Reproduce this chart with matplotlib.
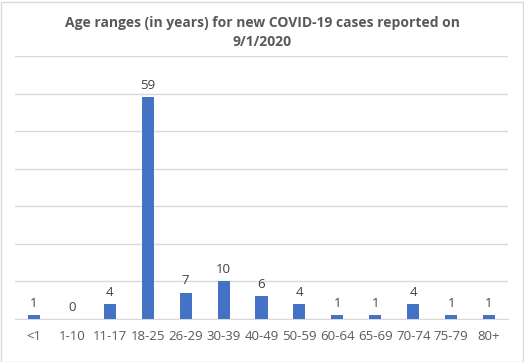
import numpy as np
import matplotlib.pyplot as plt
from matplotlib.patches import Rectangle

ages = ['<1', '1-10', '11-17', '18-25', '26-29', '30-39', '40-49',
        '50-59', '60-64', '65-69', '70-74', '75-79', '80+']
cases = [1, 0, 4, 59, 7, 10, 6, 4, 1, 1, 4, 1, 1]

plt.rcParams['font.family'] = ['Open Sans', 'DejaVu Sans']

fig = plt.figure(figsize=(5.24, 3.62), dpi=100)
ax = fig.add_axes([15 / 524, 43 / 362, 493 / 524, 263 / 362])

x = np.arange(len(ages))
bars = ax.bar(x, cases, width=0.32, color='#4472C4', zorder=3)
for xi, v in zip(x, cases):
    ax.text(xi, v + 1.4, str(v), ha='center', va='bottom', fontsize=9.5, color='#404040')

ax.set_xlim(-0.5, len(ages) - 0.5)
ax.set_ylim(0, 70)
ax.set_yticks(np.arange(0, 71, 10))
ax.yaxis.grid(True, color='#D9D9D9', linewidth=1, zorder=0)
ax.tick_params(axis='y', left=False, labelleft=False)
ax.tick_params(axis='x', length=0, pad=8, labelsize=9.5, labelcolor='#595959')
ax.set_xticks(x)
ax.set_xticklabels(ages)
for s in ['top', 'right', 'left']:
    ax.spines[s].set_visible(False)
ax.spines['bottom'].set_color('#D9D9D9')

fig.text(0.5, 0.955, 'Age ranges (in years) for new COVID-19 cases reported on\n9/1/2020',
         ha='center', va='top', fontsize=10, fontweight='bold', color='#595959',
         linespacing=1.4)

fig.patches.append(Rectangle((0.5 / 524, 0.5 / 362), 522 / 524, 360 / 362,
                             transform=fig.transFigure, fill=False,
                             edgecolor='#D9D9D9', linewidth=1))

fig.savefig('out.png', dpi=100)
